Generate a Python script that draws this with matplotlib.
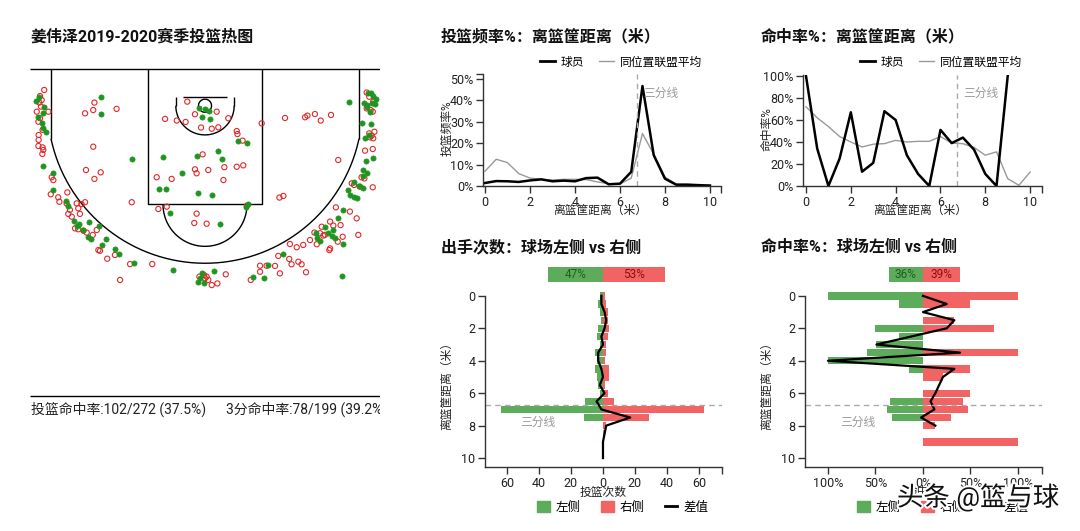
import matplotlib
matplotlib.use('Agg')
import matplotlib.pyplot as plt
import matplotlib.patheffects as pe
from matplotlib.lines import Line2D
from matplotlib.patches import Patch
import numpy as np

plt.rcParams['font.family'] = ['Roboto', 'Noto Sans CJK SC']

# ---------------- data ----------------
title_main = '姜伟泽2019-2020赛季投篮热图'
fg_made, fg_att = 102, 272
three_made, three_att = 78, 199

# shot locations in metres: x from basket centre, y from baseline
made_x = [-7.24, -6.89, -7.14, -7.0, -6.96, -6.93, -6.5, -6.53, -5.96, -5.86, -5.61, -5.39, -5.24, -5.0,
          -4.96, -4.54, -4.24, -4.43, -3.86, -3.67, -3.04, -1.36, -4.46, -4.46, -3.11, -1.81, -1.96, -1.69,
          -1.0, -0.24, 0.17, -0.14, 0.21, -0.33, 0.54, 0.71, -0.29, 0.29, 1.43, 1.81, -1.5, 0.64, 1.86, 1.76,
          -0.11, -0.04, -0.29, 0.39, 7.0, 7.11, 6.19, 6.83, 7.14, 7.33, 7.29, 6.93, 7.07, 6.74, 7.11, 7.04,
          6.86, 7.21, 6.89, 6.79, 6.76, 6.79, 6.4, 6.14, 6.21, 6.39, 6.53, 5.93, 5.71, 5.5, 5.14, 4.76, 4.79,
          4.93, 5.43, 5.57, 5.9, 3.33, 2.69, 2.53, 2.04, 5.86, -7.1, -6.95, 7.2, 6.95, -5.5, 5.25, 6.6, -0.2,
          -4.9, 6.95, -6.8, 0.0]
made_y = [1.36, 1.61, 2.04, 2.3, 2.54, 4.16, 4.47, 5.19, 5.64, 5.86, 6.5, 6.64, 6.9, 7.21,
          6.54, 6.71, 7.29, 7.54, 7.71, 7.91, 8.3, 8.61, 1.21, 1.94, 3.87, 3.79, 5.16, 5.16,
          4.47, 1.66, 1.79, 2.04, 2.14, 3.73, 3.5, 3.87, 5.3, 5.41, 3.1, 3.17, 6.19, 6.63, 5.79, 5.93,
          8.76, 9.19, 9.11, 8.66, 1.04, 1.04, 1.43, 1.44, 1.47, 1.3, 1.51, 1.54, 1.83, 2.33, 2.36, 2.83,
          2.97, 3.83, 3.94, 4.33, 4.59, 5.11, 4.86, 5.19, 5.4, 5.47, 5.51, 6.04, 6.4, 6.9, 6.76, 7.01, 7.26,
          7.37, 7.14, 7.26, 7.5, 7.93, 8.4, 8.97, 8.93, 8.87, 1.2, 1.9, 1.15, 1.65, 6.75, 7.05, 5.0, 8.95,
          7.3, 4.45, 2.7, 1.7]
miss_x = [-6.89, -7.07, -7.0, -7.1, -7.03, -6.71, -7.21, -7.07, -7.14, -6.96, -7.13, -7.13, -7.14, -6.96,
          -6.93, -6.97, -6.57, -6.5, -6.61, -6.29, -6.24, -5.9, -5.93, -5.79, -5.86, -5.71, -5.5, -5.43,
          -5.29, -5.36, -5.14, -5.57, -5.43, -5.21, -5.07, -4.64, -4.81, -4.57, -4.5, -4.19, -3.86, -3.21,
          -2.26, -3.64, -4.74, -4.79, -5.14, -3.79, -4.79, -5.1, -4.47, -4.74, -3.14, -2.07, -1.43, -0.76,
          -0.43, 0.5, 1.0, -1.71, -1.21, -0.83, -0.17, 0.29, 0.57, -0.1, -0.43, -0.36, 0.14, 0.83, 0.79,
          1.36, 1.64, 1.36, 1.39, 1.61, -2.0, -1.64, -0.36, -0.46, 0.07, 1.79, -0.24, 0.0, 0.14, -0.04,
          0.07, 0.29, 0.53, 0.89, 2.43, 3.43, 4.29, 4.39, 4.71, 4.96, 5.4, 5.71, 3.36, 3.19, 5.61, 6.21,
          6.5, 6.57, 6.29, 6.39, 6.64, 7.19, 6.71, 6.83, 7.19, 6.86, 7.21, 7.14, 7.07, 7.26, 7.04, 6.93,
          7.04, 6.93, 7.1, 7.19, 7.21, 5.36, 5.5, 5.81, 5.0, 4.93, 5.14, 4.69, 5.07, 5.9, 5.69, 5.36, 5.33,
          4.5, 4.79, 4.21, 3.93, 3.64, 3.14, 3.61, 3.71, 4.0, 4.14, 4.33, 3.0, 3.21, 2.64, 2.36, 2.36, 1.96]
miss_y = [0.9, 1.16, 1.33, 1.44, 1.61, 1.83, 1.83, 2.11, 2.26, 2.61, 2.83, 3.04, 3.3, 3.36,
          3.47, 3.64, 4.64, 4.76, 5.37, 5.5, 5.69, 5.29, 5.76, 6.04, 6.21, 6.33, 5.76, 5.97,
          5.79, 6.21, 5.71, 6.83, 6.87, 6.93, 7.01, 6.9, 7.11, 7.76, 7.79, 8.13, 7.97, 8.36,
          8.36, 9.04, 1.44, 1.76, 1.9, 1.71, 3.33, 4.33, 4.43, 4.71, 5.71, 4.64, 4.71, 1.4,
          1.94, 1.83, 2.11, 2.14, 2.21, 2.27, 2.51, 2.56, 2.5, 3.66, 4.3, 4.47, 4.33, 4.21, 4.76,
          4.19, 4.13, 2.66, 2.79, 3.07, 6.0, 5.9, 6.2, 6.6, 6.63, 5.86, 8.9, 8.97, 9.04, 8.83,
          8.9, 9.26, 9.19, 8.8, 2.33, 2.1, 2.07, 2.0, 1.93, 2.21, 1.97, 3.9, 5.44, 5.51, 5.93, 6.11,
          6.4, 7.11, 4.9, 4.97, 5.04, 5.07, 4.64, 4.69, 3.43, 3.5, 2.97, 2.86, 2.93, 2.69, 2.76, 1.01,
          1.19, 1.69, 1.76, 1.83, 1.4, 6.54, 6.71, 6.69, 6.76, 7.04, 7.11, 7.01, 7.14, 7.19, 7.4, 7.69, 7.76,
          7.33, 7.51, 7.54, 7.64, 7.5, 8.01, 8.14, 8.37, 8.26, 8.37, 8.71, 8.44, 8.76, 8.43, 8.43, 8.69, 9.04]

# shot frequency / FG% by distance (m)
dist = [0, 0.5, 1, 1.5, 2, 2.5, 3, 3.5, 4, 4.5, 5, 5.5, 6, 6.5, 7, 7.5, 8, 8.5, 9, 9.5, 10]
freq_player = [1.4, 2.3, 2.2, 1.9, 2.6, 3.1, 2.2, 2.5, 2.2, 3.7, 3.9, 0.8, 1.1, 6.6, 46.7, 14.4, 3.4,
               0.6, 0.6, 0.4, 0.2]
freq_league = [6.9, 12.5, 10.9, 5.8, 3.7, 3.1, 2.8, 3.1, 3.1, 3.0, 1.9, 1.1, 0.9, 3.7, 24.5, 14.8, 4.2,
               0.9, 0.8, 0.5, 0.3]
fg_dist_player = [0, 0.5, 1, 1.5, 2, 2.5, 3, 3.5, 4, 4.5, 5, 5.5, 6, 6.5, 7, 7.5, 8, 8.5, 9]
fg_player = [100, 34, 0, 25, 67, 13, 21, 68, 60, 28, 11, 0, 51, 39, 44, 33, 11, 0, 100]
fg_league = [72, 62, 54, 45, 40, 35.5, 38, 38.5, 41.5, 40, 40.6, 40.6, 45, 39, 38.5, 35, 28, 31, 6.7,
             0.6, 12.7]

# left vs right side
count_left = [2, 3, 2, 1, 3, 4, 2, 5, 4, 5, 4, 3, 2, 11, 64, 12, 0, 0, 0, 0, 0]
count_right = [1, 2, 3, 3, 4, 3, 2, 2, 1, 4, 4, 1, 3, 7, 63, 29, 2, 1, 0, 0, 0]
count_share = [47, 53]
fgpct_left = [100, 25, 0, 0, 50, 25, 49, 59, 100, 15, 0, 0, 0, 35, 38, 33, 0, 0, 0, 0, 0]
fgpct_right = [100, 50, 0, 33, 75, 0, 0, 100, 0, 50, 21, 0, 49, 42, 47, 30, 13, 0, 100, 0, 0]
fgdiff_dist = [0, 0.5, 1, 1.5, 2, 3, 3.5, 4, 4.5, 5, 6, 6.5, 7, 7.5, 8]
fgdiff = [0, 25, 0, 33, 25, -49, 39, -100, 33, 21, 13, 8, 12, -2, 13]
fg_share = [36, 39]

# ---------------- style ----------------
GREEN = '#5cac5c'
RED = '#f26363'
DGREEN = '#1e5e1e'
DRED = '#8a0f0f'
GRAY = '#999999'
W, H = 1080, 531

fig = plt.figure(figsize=(W / 100, H / 100), dpi=100)


def box(l, t, r, b):
    return fig.add_axes([l / W, 1 - b / H, (r - l) / W, (b - t) / H])


def ftext(x, y, s, **kw):
    return fig.text(x / W, 1 - y / H, s, **kw)


# ---------------- court ----------------
axc = box(30, 57.3, 380, 430.7)
axc.set_xlim(-7.5, 7.5)
axc.set_ylim(15.5, -0.5)
axc.axis('off')
lc = dict(color='black', lw=1.0, solid_capstyle='butt')
axc.plot([-7.5, 7.5], [0, 0], **lc)
axc.plot([-7.5, 7.5], [14, 14], **lc)
hoop_y = 1.575
a = np.arcsin(6.6 / 6.75)
t = np.linspace(-a, a, 200)
axc.plot(6.75 * np.sin(t), hoop_y + 6.75 * np.cos(t), **lc)
cy = hoop_y + 6.75 * np.cos(a)
axc.plot([-6.6, -6.6], [0, cy], **lc)
axc.plot([6.6, 6.6], [0, cy], **lc)
axc.plot([-2.45, -2.45, 2.45, 2.45], [0, 5.8, 5.8, 0], **lc)
t2 = np.linspace(-np.pi / 2, np.pi / 2, 100)
axc.plot(1.8 * np.sin(t2), 5.8 + 1.8 * np.cos(t2), **lc)
axc.plot(1.25 * np.sin(t2), hoop_y + 1.25 * np.cos(t2), **lc)
axc.plot([-1.25, -1.25], [1.2, hoop_y], **lc)
axc.plot([1.25, 1.25], [1.2, hoop_y], **lc)
axc.plot([-0.95, 0.95], [1.2, 1.2], **lc)
t3 = np.linspace(0, 2 * np.pi, 100)
axc.plot(0.28 * np.cos(t3), hoop_y + 0.28 * np.sin(t3), **lc)
axc.scatter(miss_x, miss_y, s=14, facecolors='none', edgecolors='#e3282a', linewidths=0.8, zorder=3)
axc.scatter(made_x, made_y, s=14, color='#1f951f', edgecolors='#1f951f', linewidths=0.5, zorder=4)
axc.text(-7.46, 14.6, f'投篮命中率:{fg_made}/{fg_att} ({fg_made / fg_att * 100:.1f}%)',
         fontsize=10, va='center', ha='left', clip_on=True, color='#222222')
axc.text(0.9, 14.6, f'3分命中率:{three_made}/{three_att} ({three_made / three_att * 100:.1f}%)',
         fontsize=10, va='center', ha='left', clip_on=True, color='#222222')

# ---------------- titles ----------------
tk = dict(fontsize=11.5, fontweight='bold', va='center', ha='left', color='#111111')
ftext(30, 37, title_main, **tk)
ftext(441, 37, '投篮频率%：离篮筐距离（米）', **tk)
ftext(761, 37, '命中率%：离篮筐距离（米）', **tk)
ftext(441, 247, '出手次数：球场左侧 vs 右侧', **tk)
ftext(761, 247, '命中率%：球场左侧 vs 右侧', **tk)


def style_axes(ax):
    for s in ['top', 'right']:
        ax.spines[s].set_visible(False)
    for s in ['left', 'bottom']:
        ax.spines[s].set_color('#333333')
        ax.spines[s].set_linewidth(1.0)
    ax.tick_params(which='both', length=5, width=1, color='#333333', labelsize=9, pad=2,
                   labelcolor='#222222')


# ---------------- top middle ----------------
ax1 = box(483, 74, 721, 186)
style_axes(ax1)
ax1.plot(dist, freq_league, color=GRAY, lw=1)
ax1.plot(dist, freq_player, color='black', lw=1.8)
ax1.axvline(6.75, color='#aaaaaa', ls=(0, (4, 3)), lw=1)
ax1.text(7.02, 43.5, '三分线', color=GRAY, fontsize=8.5, va='center')
ax1.set_xlim(-0.089, 10.49)
ax1.set_ylim(0, 52.3)
ax1.set_xticks([0, 2, 4, 6, 8, 10])
ax1.set_yticks([0, 10, 20, 30, 40, 50])
ax1.set_yticklabels([f'{v}%' for v in [0, 10, 20, 30, 40, 50]])
ax1.set_xticks([10.49], minor=True)
ax1.set_yticks([52.3], minor=True)
ftext(600, 210, '离篮筐距离（米）', fontsize=8.5, ha='center', va='center', color='#222222')
ftext(447, 128, '投篮频率%', fontsize=8.5, ha='center', va='center', rotation=90, color='#222222')

# ---------------- top right ----------------
ax2 = box(803, 75, 1042, 186)
style_axes(ax2)
ax2.plot(dist, fg_league, color=GRAY, lw=1)
ax2.plot(fg_dist_player, fg_player, color='black', lw=1.8)
ax2.axvline(6.75, color='#aaaaaa', ls=(0, (4, 3)), lw=1)
ax2.text(7.0, 84.5, '三分线', color=GRAY, fontsize=8.5, va='center')
ax2.set_xlim(-0.134, 10.53)
ax2.set_ylim(0, 100.9)
ax2.set_xticks([0, 2, 4, 6, 8, 10])
ax2.set_yticks([0, 20, 40, 60, 80, 100])
ax2.set_yticklabels([f'{v}%' for v in [0, 20, 40, 60, 80, 100]])
ax2.set_xticks([10.53], minor=True)
ftext(920, 210, '离篮筐距离（米）', fontsize=8.5, ha='center', va='center', color='#222222')
ftext(767, 129, '命中率%', fontsize=8.5, ha='center', va='center', rotation=90, color='#222222')

for cx_right, ax in [(702, ax1), (1022, ax2)]:
    fig.legend(handles=[Line2D([], [], color='black', lw=2, label='球员'),
                        Line2D([], [], color=GRAY, lw=1, label='同位置联盟平均')],
               ncol=2, frameon=False, loc='center right', fontsize=8.5,
               bbox_to_anchor=(cx_right / W, 1 - 62 / H), borderpad=0, borderaxespad=0,
               handlelength=1.3, handletextpad=0.5, columnspacing=1.2)

# ---------------- bottom middle ----------------
ax3 = box(485, 291, 722, 467)
style_axes(ax3)
ax3.barh(dist, [-v for v in count_left], height=0.45, color=GREEN)
ax3.barh(dist, count_right, height=0.45, color=RED)
count_diff = [r - l for l, r in zip(count_left, count_right)]
ax3.plot(count_diff, dist, color='black', lw=1.6)
ax3.axhline(6.75, color='#aaaaaa', ls=(0, (4, 3)), lw=1)
ax3.text(-40.6, 7.8, '三分线', color=GRAY, fontsize=8.5, va='center', ha='center')
ax3.set_xlim(-73.75, 74.4)
ax3.set_ylim(10.55, -0.3)
ax3.spines['left'].set_bounds(0, 10.55)
ax3.set_yticks([0, 2, 4, 6, 8, 10])
ax3.set_xticks([-60, -40, -20, 0, 20, 40, 60])
ax3.set_xticklabels([str(abs(v)) for v in [-60, -40, -20, 0, 20, 40, 60]])
ax3.set_xticks([74.4], minor=True)
ftext(603, 492, '投篮次数', fontsize=8.5, ha='center', va='center', color='#222222')
ftext(447, 383, '离篮筐距离（米）', fontsize=8.5, ha='center', va='center', rotation=90, color='#222222')

pa = box(485, 267, 722, 282)
pa.barh([0], [-count_share[0]], height=1, color=GREEN)
pa.barh([0], [count_share[1]], height=1, color=RED)
pa.set_xlim(-100.9, 101.7)
pa.set_ylim(-0.5, 0.5)
pa.axis('off')
pa.text(-count_share[0] / 2, 0, f'{count_share[0]}%', color=DGREEN, fontsize=8.5, ha='center', va='center')
pa.text(count_share[1] / 2, 0, f'{count_share[1]}%', color=DRED, fontsize=8.5, ha='center', va='center')

# ---------------- bottom right ----------------
ax4 = box(805, 291, 1042, 467)
style_axes(ax4)
ax4.barh(dist, [-v for v in fgpct_left], height=0.45, color=GREEN)
ax4.barh(dist, fgpct_right, height=0.45, color=RED)
ax4.plot(fgdiff, fgdiff_dist, color='black', lw=1.6)
ax4.axhline(6.75, color='#aaaaaa', ls=(0, (4, 3)), lw=1)
ax4.text(-69, 7.8, '三分线', color=GRAY, fontsize=8.5, va='center', ha='center')
ax4.set_xlim(-124.2, 125.3)
ax4.set_ylim(10.55, -0.3)
ax4.spines['left'].set_bounds(0, 10.55)
ax4.set_yticks([0, 2, 4, 6, 8, 10])
ax4.set_xticks([-100, -50, 0, 50, 100])
ax4.set_xticklabels([f'{abs(v)}%' for v in [-100, -50, 0, 50, 100]])
ax4.set_xticks([125.3], minor=True)
ftext(923, 492, '命中率', fontsize=8.5, ha='center', va='center', color='#222222')
ftext(767, 383, '离篮筐距离（米）', fontsize=8.5, ha='center', va='center', rotation=90, color='#222222')

pb = box(805, 267, 1042, 282)
pb.barh([0], [-fg_share[0]], height=1, color=GREEN)
pb.barh([0], [fg_share[1]], height=1, color=RED)
pb.set_xlim(-124.2, 125.3)
pb.set_ylim(-0.5, 0.5)
pb.axis('off')
pb.text(-fg_share[0] / 2, 0, f'{fg_share[0]}%', color=DGREEN, fontsize=8.5, ha='center', va='center')
pb.text(fg_share[1] / 2, 0, f'{fg_share[1]}%', color=DRED, fontsize=8.5, ha='center', va='center')

for cx in [623, 943]:
    fig.legend(handles=[Patch(color=GREEN, label='左侧'), Patch(color=RED, label='右侧'),
                        Line2D([], [], color='black', lw=2, label='差值')],
               ncol=3, frameon=False, loc='center', fontsize=9,
               bbox_to_anchor=(cx / W, 1 - 507 / H), borderpad=0, borderaxespad=0,
               handlelength=1.0, handleheight=1.0, handletextpad=0.5, columnspacing=1.6)

# watermark
ftext(897, 497, '头条 @篮与球', fontsize=19, color='#111111', ha='left', va='center',
      path_effects=[pe.withStroke(linewidth=3, foreground='white')], zorder=10)

fig.savefig('out.png', dpi=100)
